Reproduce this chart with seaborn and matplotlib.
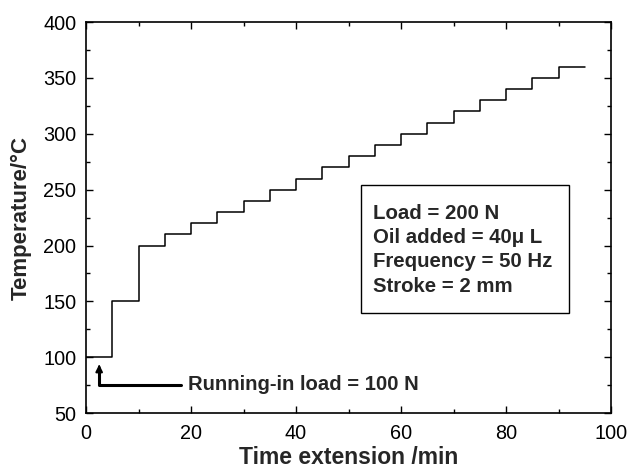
import matplotlib
matplotlib.use("Agg")
import matplotlib.pyplot as plt
import numpy as np
import pandas as pd
import seaborn as sns
from matplotlib.patches import Rectangle

# step program: temperature held for 5 min at each level
time_min = [0, 5, 10, 15, 20, 25, 30, 35, 40, 45, 50, 55, 60, 65, 70, 75, 80, 85, 90, 95]
temp_c = [100, 150, 200, 210, 220, 230, 240, 250, 260, 270, 280, 290, 300, 310, 320,
          330, 340, 350, 360, 360]

conditions = ["Load = 200 N", "Oil added = 40\u03bc L", "Frequency = 50 Hz", "Stroke = 2 mm"]
running_in = "Running-in load = 100 N"

sns.set_style("ticks")
plt.rcParams["font.family"] = ["Liberation Sans", "DejaVu Sans"]

df = pd.DataFrame({"time": time_min, "temp": temp_c})

fig, ax = plt.subplots(figsize=(6.28, 4.71), dpi=100)
fig.subplots_adjust(left=0.137, right=0.973, top=0.953, bottom=0.123)

sns.lineplot(data=df, x="time", y="temp", drawstyle="steps-post",
             color="black", linewidth=1.1, ax=ax)

ax.set_xlim(0, 100)
ax.set_ylim(50, 400)
ax.set_xticks(np.arange(0, 101, 20))
ax.set_yticks(np.arange(50, 401, 50))
ax.set_xticks(np.arange(10, 100, 20), minor=True)
ax.set_yticks(np.arange(75, 400, 50), minor=True)
ax.tick_params(which="both", direction="in", top=True, right=True, labelsize=14.3,
               width=1.0, colors="black")
ax.tick_params(which="major", length=5)
ax.tick_params(which="minor", length=3)
ax.tick_params(axis="x", pad=8)
ax.tick_params(axis="y", pad=7)
for sp in ax.spines.values():
    sp.set_linewidth(1.2)
    sp.set_color("black")

ax.set_xlabel("Time extension /min", fontsize=16.5, fontweight="bold", labelpad=2)
ax.set_ylabel("Temperature/\u00b0C", fontsize=16, fontweight="bold", labelpad=8)

# conditions box
ax.add_patch(Rectangle((52.4, 139.5), 39.6, 114.6, facecolor="white",
                       edgecolor="black", linewidth=1.0, zorder=3))
ax.text(54.7, 196.3, "\n".join(conditions), fontsize=14.7, fontweight="bold",
        va="center", ha="left", linespacing=1.35, zorder=4)

# running-in annotation
ax.plot([18, 2.5, 2.5], [75, 75, 90], color="black", linewidth=2.2)
ax.annotate("", xy=(2.5, 96), xytext=(2.5, 88),
            arrowprops=dict(arrowstyle="-|>", color="black", lw=1.5,
                            mutation_scale=10))
ax.text(19.4, 76, running_in, fontsize=14.6, fontweight="bold", va="center", ha="left")

fig.savefig("out.png", dpi=100)
